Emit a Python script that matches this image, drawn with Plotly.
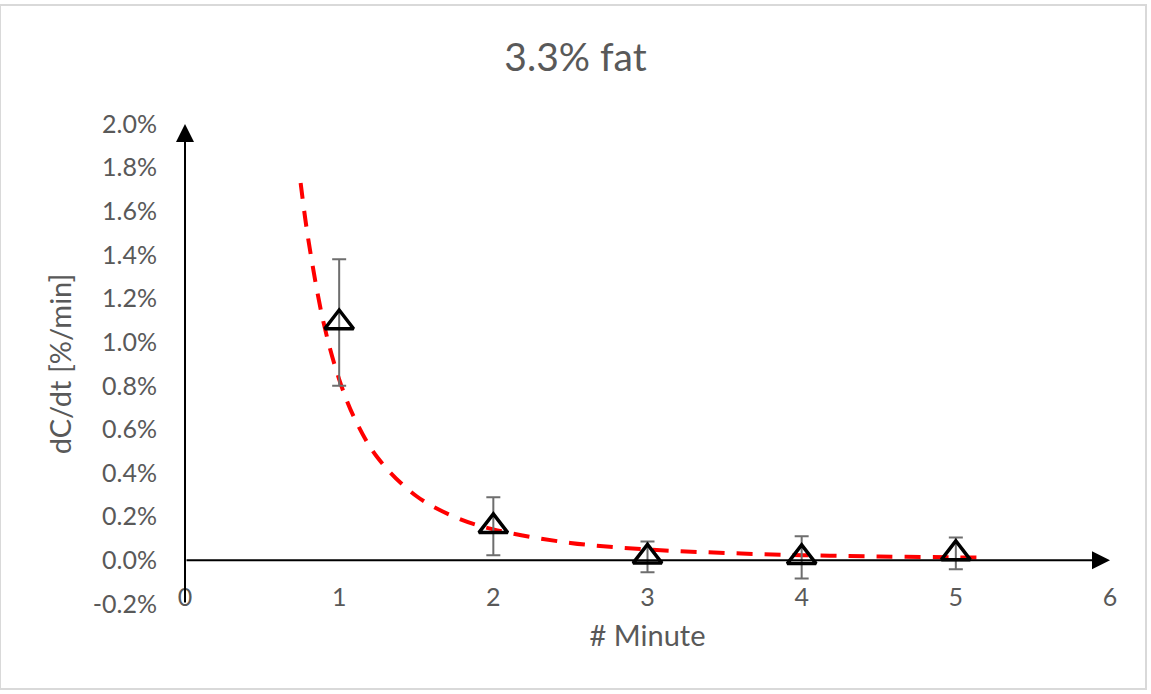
import plotly.graph_objects as go

# measured data (dC/dt in %/min)
minutes = [1, 2, 3, 4, 5]
dcdt = [1.09, 0.156, 0.016, 0.014, 0.032]
err = [0.29, 0.133, 0.071, 0.097, 0.073]

# fitted trend curve
fit_x = [0.75, 0.8, 0.9, 1.0, 1.1, 1.25, 1.5, 1.75, 2.0, 2.5, 3.0, 3.5, 4.0, 4.5, 5.0, 5.15]
fit_y = [1.73, 1.47, 1.086, 0.83, 0.651, 0.47, 0.295, 0.199, 0.142, 0.080, 0.050, 0.034, 0.024, 0.018, 0.0137, 0.0127]

y_ticks = [-0.2, 0.0, 0.2, 0.4, 0.6, 0.8, 1.0, 1.2, 1.4, 1.6, 1.8, 2.0]
y_tick_text = ["-0.2%", "0.0%", "0.2%", "0.4%", "0.6%", "0.8%", "1.0%", "1.2%", "1.4%", "1.6%", "1.8%", "2.0%"]
x_ticks = [0, 1, 2, 3, 4, 5, 6]
x_tick_text = ["0", "1", "2", "3", "4", "5", "6"]

GRAY = "#595959"
FONT = "Lato"

fig = go.Figure()

fig.add_trace(go.Scatter(
    x=fit_x, y=fit_y, mode="lines",
    line=dict(color="#ff0000", width=4, dash="16px,12px", shape="spline"),
    hoverinfo="skip", showlegend=False,
))

fig.add_trace(go.Scatter(
    x=minutes, y=dcdt, mode="markers",
    marker=dict(symbol="triangle-up-open", size=25, color="black", line=dict(width=3.5, color="black")),
    error_y=dict(type="data", array=err, visible=True, color="#6e6e6e", thickness=2, width=7),
    showlegend=False,
))

# axis lines with arrow heads
fig.add_annotation(x=0, y=2.0, ax=0, ay=-0.2, xref="x", yref="y", axref="x", ayref="y",
                   text="", showarrow=True, arrowhead=2, arrowsize=1.8, arrowwidth=2, arrowcolor="black")
fig.add_annotation(x=6, y=0, ax=0, ay=0, xref="x", yref="y", axref="x", ayref="y",
                   text="", showarrow=True, arrowhead=2, arrowsize=1.8, arrowwidth=2, arrowcolor="black")

# chart border
fig.add_shape(type="rect", xref="paper", yref="paper", x0=-185/925, x1=(1146-185)/925,
              y0=-(689-604)/480, y1=(604-5)/480, line=dict(color="#d9d9d9", width=2), layer="below")

fig.update_layout(
    width=1151, height=694,
    margin=dict(l=185, r=41, t=124, b=90),
    paper_bgcolor="white", plot_bgcolor="white",
    font=dict(family=FONT, color=GRAY, size=25),
    title=dict(text="3.3% fat", x=0.5, xanchor="center", y=1 - 57/694, yanchor="middle",
               font=dict(family=FONT, size=39, color=GRAY)),
    xaxis=dict(range=[0, 6], tickvals=x_ticks, ticktext=x_tick_text, showgrid=False, zeroline=False,
               showline=False, ticks="", ticklabelstandoff=-24,
               tickfont=dict(size=25, color=GRAY),
               title=dict(text="# Minute", font=dict(size=29, color=GRAY), standoff=15)),
    yaxis=dict(range=[-0.2, 2.0], tickvals=y_ticks, ticktext=y_tick_text, showgrid=False, zeroline=False,
               showline=False, ticks="", ticklabelstandoff=27,
               tickfont=dict(size=25, color=GRAY),
               title=dict(text="dC/dt [%/min]", font=dict(size=29, color=GRAY), standoff=12)),
)

fig.write_html("out.html")
